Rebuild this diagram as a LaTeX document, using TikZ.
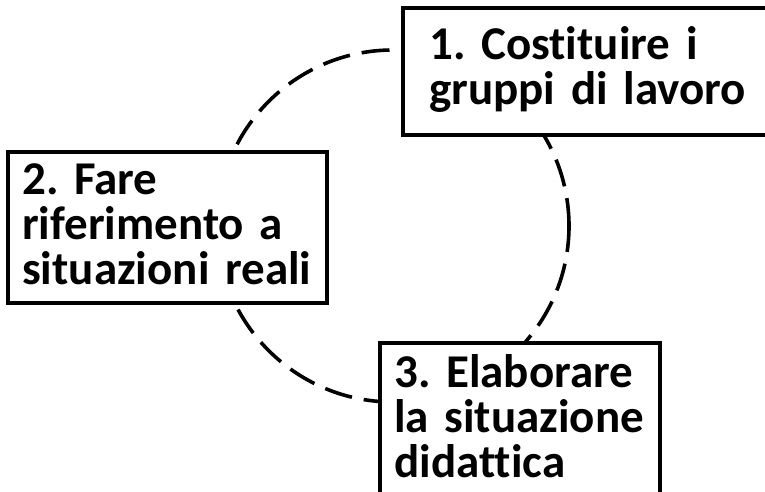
\documentclass[tikz,border=0pt]{standalone}
\usepackage{fontspec}
\setmainfont{Carlito}[Ligatures={NoCommon,NoRare,NoContextual}]
\frenchspacing
\tikzset{
  boxframe/.style={draw=black, line width=3.2pt, fill=white},
  lbl/.style={font=\bfseries\fontsize{47}{45}\selectfont, align=left, anchor=base west, inner sep=0pt, text width=400pt},
  ring/.style={draw=black, line width=3.6pt, dash pattern=on 28pt off 12pt}
}
\begin{document}
\begin{tikzpicture}[x=1pt,y=-1pt]
\useasboundingbox (0,0) rectangle (765,492);
\clip (0,0) rectangle (765,492);
\fill[white] (0,0) rectangle (765,492);
% dashed cycle ring
\coordinate (ringc) at (393,226);
\draw[ring] (ringc) circle[radius=176pt];
% boxes
\draw[boxframe] (403,8) rectangle (820,135);
\draw[boxframe] (8,152) rectangle (327,303);
\draw[boxframe] (380,343) rectangle (660,540);
% labels
\node[lbl] (t1) at (429,60) {1. Costituire i\\gruppi di lavoro};
\node[lbl] (t2) at (22,194) {2. Fare\\riferimento a\\situazioni reali};
\node[lbl] (t3) at (394,387) {3. Elaborare\\la situazione\\didattica};
\end{tikzpicture}
\end{document}
